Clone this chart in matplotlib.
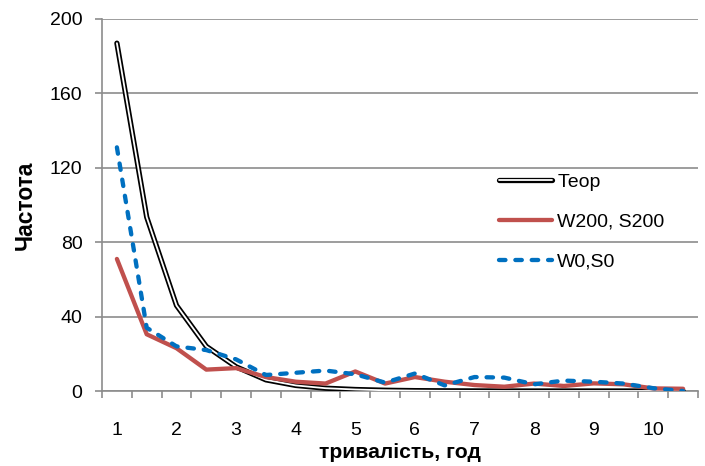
import matplotlib
matplotlib.use("Agg")
import matplotlib.pyplot as plt
import matplotlib.patheffects as pe

# data (categories every half hour)
hours = [1, 1.5, 2, 2.5, 3, 3.5, 4, 4.5, 5, 5.5, 6, 6.5, 7, 7.5, 8, 8.5, 9, 9.5, 10, 10.5]
teor = [187, 93.5, 46, 24, 13, 6, 3, 1.5, 0.8, 0.4, 0.2, 0.1, 0.05, 0, 0, 0, 0, 0, 0, 0]
w200_s200 = [71, 30.5, 23, 11.5, 12.3, 7.5, 5, 4, 10.5, 4, 7.5, 5, 3.2, 2.3, 4, 2.7, 4.1, 3.6, 1.4, 1.2]
w0_s0 = [131, 34, 24, 22, 17, 8.6, 9.8, 11, 9, 4.5, 9.4, 3, 7.5, 7.2, 3.6, 5.6, 5, 4, 1.5, 0]
xlabels = ["1", "2", "3", "4", "5", "6", "7", "8", "9", "10"]
yticks = [0, 40, 80, 120, 160, 200]

plt.rcParams['font.family'] = ['Liberation Sans', 'DejaVu Sans']

W, H = 705, 466
fig = plt.figure(figsize=(W / 100, H / 100), dpi=100)
ax = fig.add_axes([102 / W, (H - 391) / H, (698 - 102) / W, (391 - 19) / H])

GRID = "#8c8c8c"

# Teor: double line (white core with black outline)
ax.plot(hours, teor, color="white", lw=1.3, solid_joinstyle="round",
        solid_capstyle="round",
        path_effects=[pe.Stroke(linewidth=3.8, foreground="black"), pe.Normal()],
        label="Теор", zorder=3)
ax.plot(hours, w200_s200, color="#C0504D", lw=3.1, solid_capstyle="round",
        label="W200, S200", zorder=4)
ax.plot(hours, w0_s0, color="#0070C0", lw=3.1, linestyle=(0, (1.5, 2.3)),
        dash_capstyle="round", label="W0,S0", zorder=5)

ax.set_xlim(0.75, 10.75)
ax.set_ylim(0, 200)
ax.set_yticks(yticks)
ax.set_xticks(hours[::2])
ax.set_xticklabels(xlabels)
ax.set_xticks([h - 0.25 for h in hours] + [10.75], minor=True)

ax.grid(axis="y", color=GRID, lw=1.2)
ax.set_axisbelow(True)
for s in ["top", "right"]:
    ax.spines[s].set_visible(False)
for s in ["left", "bottom"]:
    ax.spines[s].set_color(GRID)
    ax.spines[s].set_linewidth(1.2)

ax.tick_params(axis="y", length=5, width=1.2, color=GRID, labelsize=14, pad=9)
ax.tick_params(axis="x", which="major", length=0, labelsize=14, pad=22)
ax.tick_params(axis="x", which="minor", length=5, width=1.2, color=GRID)

fig.text(400 / W, 1 - 453 / H, "тривалість, год", ha="center", va="center",
         fontsize=15.2, fontweight="bold")
fig.text(25 / W, 1 - 205 / H, "Частота", ha="center", va="center",
         rotation=90, fontsize=16.5, fontweight="bold")

fig.legend(loc="center left", bbox_to_anchor=(499 / W, 1 - 222 / H),
           frameon=False, fontsize=14, handlelength=2.7, handletextpad=0.3,
           labelspacing=1.15, borderpad=0, borderaxespad=0)

fig.savefig("out.png", dpi=100)
